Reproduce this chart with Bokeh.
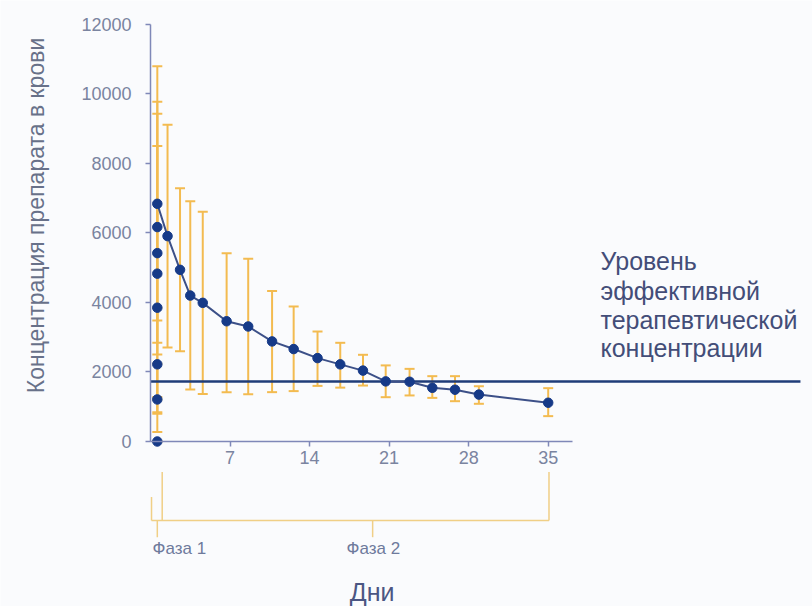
from bokeh.plotting import figure
from bokeh.models import (Range1d, LinearAxis, FixedTicker, ColumnDataSource, Whisker,
                          TeeHead, Label)
from bokeh.embed import file_html
from bokeh.resources import INLINE
import math

# ---- data ----
phase1_day = 0.6
phase1_conc = [0, 1210, 2220, 3850, 4830, 5420, 6170, 6840]
phase1_lo = [0, 270, 800, 2500, 840, 1280, 2840, 3480]
phase1_hi = [0, 1210, 2240, 3850, 8500, 9430, 9780, 10800]

days = [1.5, 2.6, 3.5, 4.6, 6.7, 8.6, 10.7, 12.6, 14.7, 16.7, 18.7, 20.7, 22.8, 24.8, 26.8, 28.9, 35.0]
conc = [5910, 4940, 4200, 3990, 3460, 3310, 2880, 2660, 2400, 2220, 2040, 1730, 1720, 1545, 1490, 1350, 1115]
conc_hi = [9115, 7290, 6915, 6610, 5420, 5260, 4330, 3885, 3165, 2840, 2495, 2190, 2090, 1880, 1880, 1590, 1535]
conc_lo = [2705, 2600, 1495, 1370, 1420, 1360, 1420, 1450, 1600, 1550, 1610, 1275, 1325, 1255, 1160, 1085, 730]

threshold = 1730
x_ticks = [7, 14, 21, 28, 35]
y_ticks = [0, 2000, 4000, 6000, 8000, 10000, 12000]

# phase brackets (days)
phase1_start, phase1_end, phase2_end = 0.09, 1.03, 35.07

FONT = "Liberation Sans"
NAVY = "#163a88"
GOLD = "#f3bb50"
BRACKET = "#f0cf86"
TICKCOL = "#7a84a0"
AXISCOL = "#7f88b8"

p = figure(width=812, height=606, output_backend="svg", toolbar_location=None,
           x_range=Range1d(-13.2, 58.26), y_range=Range1d(-4748, 12690),
           x_axis_type=None, y_axis_type=None, min_border=0,
           background_fill_color="#fafbfd", border_fill_color="#fafbfd")
p.outline_line_color = None
p.xgrid.visible = False
p.ygrid.visible = False

# axes
xa = LinearAxis(fixed_location=0, bounds=(0, 37.1), ticker=FixedTicker(ticks=x_ticks))
ya = LinearAxis(fixed_location=0, bounds=(0, 12000), ticker=FixedTicker(ticks=y_ticks))
for ax in (xa, ya):
    ax.axis_line_color = AXISCOL
    ax.axis_line_width = 1.5
    ax.major_tick_line_color = AXISCOL
    ax.major_tick_line_width = 1.5
    ax.major_tick_out = 5
    ax.major_tick_in = 0
    ax.minor_tick_line_color = None
    ax.major_label_text_color = TICKCOL
    ax.major_label_text_font = FONT
    ax.major_label_text_font_size = "18px"
xa.major_label_standoff = 5
ya.major_label_standoff = 14
p.add_layout(xa, "below")
p.add_layout(ya, "left")

# threshold line
p.segment(x0=[0], y0=[threshold], x1=[57.2], y1=[threshold], line_color="#1f3c78", line_width=2.5)

# error bars
src1 = ColumnDataSource(dict(x=[phase1_day] * len(phase1_conc), y=phase1_conc, lo=phase1_lo, hi=phase1_hi))
src2 = ColumnDataSource(dict(x=days, y=conc, lo=conc_lo, hi=conc_hi))
for src in (src1, src2):
    w = Whisker(source=src, base="x", upper="hi", lower="lo", line_color=GOLD, line_width=2,
                upper_head=TeeHead(size=10, line_color=GOLD, line_width=2),
                lower_head=TeeHead(size=10, line_color=GOLD, line_width=2))
    p.add_layout(w)

# main line and points
line_x = [phase1_day] + days
line_y = [max(phase1_conc)] + conc
p.line(line_x, line_y, line_color="#3c5088", line_width=2)
p.scatter(x="x", y="y", source=src1, size=9.5, fill_color=NAVY, line_color=NAVY)
p.scatter(x="x", y="y", source=src2, size=9.5, fill_color=NAVY, line_color=NAVY)

# phase brackets
bx0 = [phase1_start, phase1_end, phase1_start, phase2_end, phase1_day, 19.55]
by0 = [-1600, -880, -2273, -880, -2273, -2273]
bx1 = [phase1_start, phase1_end, phase2_end, phase2_end, phase1_day, 19.55]
by1 = [-2273, -2273, -2273, -2273, -2754, -2754]
p.segment(x0=bx0, y0=by0, x1=bx1, y1=by1, line_color=BRACKET, line_width=1.5)

def lab(x, y, t, size, color, align="left", angle=0.0, baseline="alphabetic"):
    p.add_layout(Label(x=x, y=y, text=t, text_font=FONT, text_font_size=size, text_color=color,
                       text_align=align, text_baseline=baseline, angle=angle))

lab(0.18, -3080, "Фаза 1", "17px", "#6e7a9c")
lab(17.25, -3080, "Фаза 2", "17px", "#6e7a9c")
lab(19.5, -4320, "Дни", "25px", "#4b5683", align="center")

for t, yy in zip(["Уровень", "эффективной", "терапевтической", "концентрации"],
                 [5180, 4317, 3502, 2696]):
    lab(39.6, yy, t, "25px", "#434d78")

lab(-10.1, 6504, "Концентрация препарата в крови", "23px", "#687189", align="center",
    angle=math.pi / 2, baseline="middle")

open("out.html", "w").write(file_html(p, INLINE))
